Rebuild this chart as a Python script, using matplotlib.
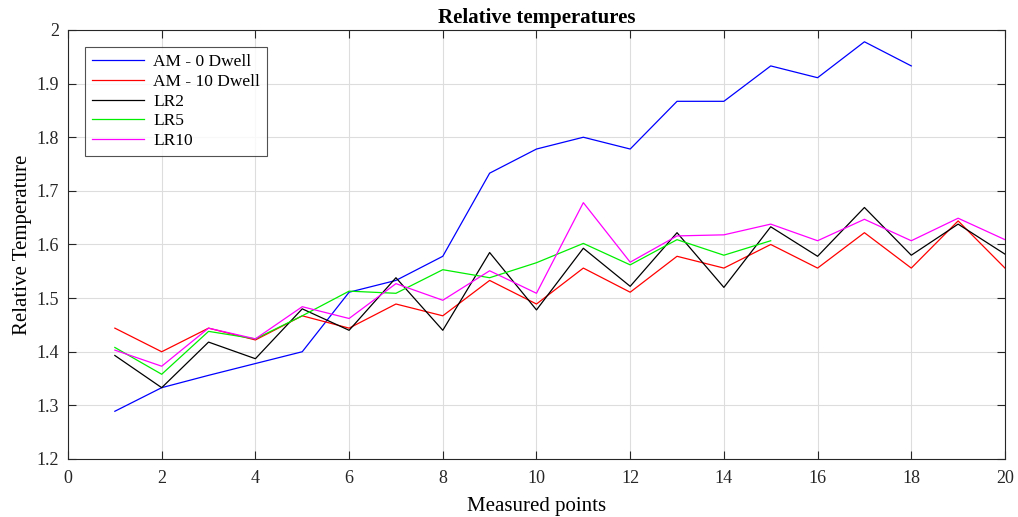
import matplotlib
matplotlib.use("Agg")
import matplotlib.pyplot as plt

# measured point indices
pts_20 = list(range(1, 21))
pts_18 = list(range(1, 19))
pts_15 = list(range(1, 16))

am_0_dwell = [1.289, 1.333, 1.356, 1.378, 1.400, 1.511, 1.533, 1.578, 1.733, 1.778,
              1.800, 1.778, 1.867, 1.867, 1.933, 1.911, 1.978, 1.933]
am_10_dwell = [1.444, 1.400, 1.444, 1.422, 1.467, 1.444, 1.489, 1.467, 1.533, 1.489,
               1.556, 1.511, 1.578, 1.556, 1.600, 1.556, 1.622, 1.556, 1.644, 1.556]
lr2 = [1.393, 1.333, 1.418, 1.387, 1.480, 1.440, 1.538, 1.440, 1.585, 1.478,
       1.593, 1.522, 1.622, 1.520, 1.633, 1.578, 1.669, 1.580, 1.638, 1.582]
lr5 = [1.408, 1.358, 1.438, 1.424, 1.467, 1.513, 1.509, 1.553, 1.538, 1.566,
       1.602, 1.562, 1.609, 1.580, 1.607]
lr10 = [1.403, 1.373, 1.444, 1.424, 1.484, 1.462, 1.527, 1.496, 1.551, 1.509,
        1.678, 1.567, 1.616, 1.618, 1.638, 1.607, 1.647, 1.607, 1.649, 1.609]

plt.rcParams['font.family'] = ['Liberation Serif', 'DejaVu Serif']

fig = plt.figure(figsize=(10.18, 5.17), dpi=100)
ax = fig.add_axes([0.0668, 0.1122, 0.9204, 0.8298])

ax.plot(pts_18, am_0_dwell, color='blue', lw=0.9, label='AM - 0 Dwell')
ax.plot(pts_20, am_10_dwell, color='red', lw=0.9, label='AM - 10 Dwell')
ax.plot(pts_20, lr2, color='black', lw=0.9, label='LR2')
ax.plot(pts_15, lr5, color='#00ee00', lw=0.9, label='LR5')
ax.plot(pts_20, lr10, color='magenta', lw=0.9, label='LR10')

ax.set_xlim(0, 20)
ax.set_ylim(1.2, 2.0)
ax.set_xticks(range(0, 21, 2))
ax.set_yticks([1.2, 1.3, 1.4, 1.5, 1.6, 1.7, 1.8, 1.9, 2.0])
ax.set_yticklabels(['1.2', '1.3', '1.4', '1.5', '1.6', '1.7', '1.8', '1.9', '2'])
ax.grid(True, color='#dddddd', lw=0.8)
ax.set_axisbelow(True)
ax.tick_params(direction='in', length=6, width=0.8, top=True, right=True,
               labelsize=13, colors='#262626')
ax.tick_params(axis='x', pad=8)
ax.tick_params(axis='y', pad=6.5)
for s in ax.spines.values():
    s.set_color('#262626')
    s.set_linewidth(0.8)

ax.set_title('Relative temperatures', fontsize=15, fontweight='bold', pad=5)
ax.set_xlabel('Measured points', fontsize=15, labelpad=7)
ax.set_ylabel('Relative Temperature', fontsize=15, labelpad=3)

leg = ax.legend(loc='upper left', bbox_to_anchor=(0.0, 1.0), fontsize=12.5,
                frameon=True, fancybox=False, edgecolor='#262626',
                handlelength=3.0, handletextpad=0.5, labelspacing=0.2,
                borderpad=0.4, borderaxespad=1.0)
leg.get_frame().set_linewidth(0.8)

fig.savefig('out.png', dpi=100)
